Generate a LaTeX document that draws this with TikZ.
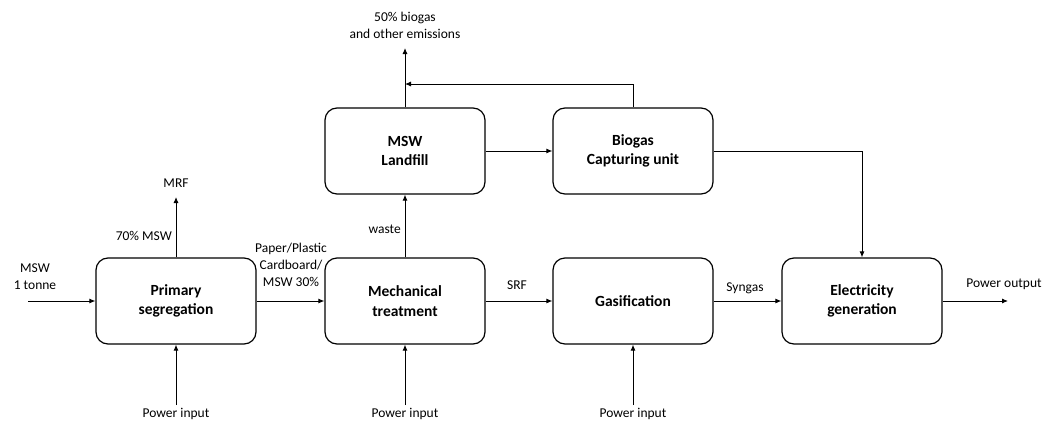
\documentclass[tikz,border=0pt]{standalone}
\usepackage{fontspec}
\setmainfont{Carlito}
\usetikzlibrary{arrows.meta}
\tikzset{
  block/.style={draw, rounded corners=12pt, line width=1.2pt, minimum width=160pt, minimum height=86pt, align=center, font=\fontsize{15.5}{19.5}\selectfont\bfseries},
  lbl/.style={align=center, inner sep=0pt, font=\fontsize{13.5}{17}\selectfont},
  flow/.style={-{Latex[length=6pt,width=5pt]}, line width=0.9pt}
}
\begin{document}
\begin{tikzpicture}[x=1pt, y=-1pt]
    \useasboundingbox (0,0) rectangle (1057,423);
    \node [block] (seg) at (176,301) {Primary\\segregation};
    \node [block] (mech) at (405,301) {Mechanical\\treatment};
    \node [block] (gas) at (633,301) {Gasification};
    \node [block] (elec) at (862,301) {Electricity\\generation};
    \node [block] (land) at (405,151) {MSW\\Landfill};
    \node [block] (cap) at (633,151) {Biogas\\Capturing unit};
    \coordinate (in) at (28,301);
    \coordinate (mrfend) at (176,197);
    \coordinate (emis) at (405,48);
    \coordinate (join) at (405,84);
    \coordinate (out) at (1008,301);
    \coordinate (pw1) at (176,405);
    \coordinate (pw2) at (405,405);
    \coordinate (pw3) at (633,405);
    \draw [flow] (in) -- (seg.west);
    \draw [flow] (seg.north) -- (mrfend);
    \draw [flow] (seg.east) -- (mech.west);
    \draw [flow] (mech.north) -- (land.south);
    \draw [flow] (land.north) -- (emis);
    \draw [flow] (cap.north) |- (join);
    \draw [flow] (land.east) -- (cap.west);
    \draw [flow] (cap.east) -| (elec.north);
    \draw [flow] (mech.east) -- (gas.west);
    \draw [flow] (gas.east) -- (elec.west);
    \draw [flow] (elec.east) -- (out);
    \draw [flow] (pw1) -- (seg.south);
    \draw [flow] (pw2) -- (mech.south);
    \draw [flow] (pw3) -- (gas.south);
    \node [lbl] (msw) at (35,277) {MSW\\1 tonne};
    \node [lbl] (mrf) at (176,183) {MRF};
    \node [lbl, anchor=east] (pct) at (172,236) {70\% MSW};
    \node [lbl] (paper) at (291,265) {Paper/Plastic\\Cardboard/\\MSW 30\%};
    \node [lbl, anchor=east] (waste) at (401,229) {waste};
    \node [lbl] (emislbl) at (405,25) {50\% biogas\\and other emissions};
    \node [lbl] (srf) at (517,285) {SRF};
    \node [lbl] (syn) at (745,288) {Syngas};
    \node [lbl] (pout) at (1004,284) {Power output};
    \node [lbl] (pin1) at (176,414) {Power input};
    \node [lbl] (pin2) at (405,414) {Power input};
    \node [lbl] (pin3) at (633,414) {Power input};
\end{tikzpicture}
\end{document}
